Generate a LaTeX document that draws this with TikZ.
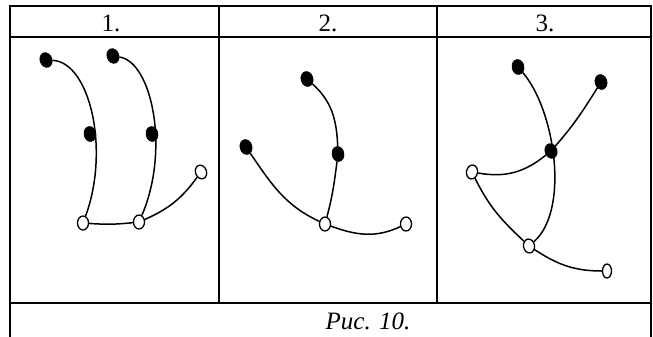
\documentclass[tikz,border=0pt]{standalone}
\usepackage{fontspec}
\setmainfont{Liberation Serif}
\usetikzlibrary{shapes.geometric}
\begin{document}
\begin{tikzpicture}[x=1bp,y=-1bp,
  frame/.style={line width=2bp},
  curve/.style={line width=1.5bp},
  fdot/.style={ellipse,fill=black,draw=black,line width=0.6bp,minimum width=12bp,minimum height=15bp,inner sep=0pt},
  odot/.style={ellipse,fill=white,draw=black,line width=1.3bp,minimum width=11bp,minimum height=14bp,inner sep=0pt},
  lbl/.style={font=\fontsize{25bp}{30bp}\selectfont,inner sep=0pt}]
\useasboundingbox (0,0) rectangle (653,336);
% table
\draw[frame] (10,340) -- (10,6) -- (651,6) -- (651,340);
\draw[frame] (10,36.5) -- (651,36.5);
\draw[frame] (10,303) -- (651,303);
\draw[frame] (219,6) -- (219,303);
\draw[frame] (437,6) -- (437,303);
\node[lbl,anchor=base] (h1) at (111,31.5) {1.};
\node[lbl,anchor=base] (h2) at (328,31.5) {2.};
\node[lbl,anchor=base] (h3) at (545,31.5) {3.};
\node[lbl,anchor=base] (cap) at (368,329) {\itshape Рис. 10.};
% column 1
\node[fdot,rotate=20] (a1) at (46,60) {};
\node[fdot,rotate=10] (b1) at (90,134) {};
\node[fdot,rotate=20] (c1) at (113,56) {};
\node[fdot,rotate=10] (d1) at (152,134) {};
\node[odot] (e1) at (83,223) {};
\node[odot] (f1) at (139,222) {};
\node[odot,rotate=20] (g1) at (201,172) {};
\draw[curve] (a1) .. controls (90,62) and (110,150) .. (e1);
\draw[curve] (c1) .. controls (152,62) and (170,150) .. (f1);
\draw[curve] (e1) to[bend right=5] (f1);
\draw[curve] (f1) to[bend right=15] (g1);
% column 2
\node[fdot,rotate=15] (a2) at (307,79) {};
\node[fdot,rotate=15] (b2) at (246,147) {};
\node[fdot,rotate=10] (c2) at (338,154) {};
\node[odot] (d2) at (325,224) {};
\node[odot] (e2) at (406,224) {};
\draw[curve] (a2) to[out=-45,in=90] (c2);
\draw[curve] (c2) to[out=-100,in=75] (d2);
\draw[curve] (b2) to[out=-58,in=155] (d2);
\draw[curve] (d2) to[out=-20,in=205] (e2);
% column 3
\node[fdot,rotate=10] (a3) at (518,67) {};
\node[fdot,rotate=15] (b3) at (601,82) {};
\node[fdot,rotate=20] (c3) at (551,151) {};
\node[odot,rotate=-10] (d3) at (472,172) {};
\node[odot,rotate=10] (e3) at (529,246) {};
\node[odot,minimum width=9bp] (f3) at (607,271) {};
\draw[curve] (a3) .. controls (555,110) and (570,210) .. (e3);
\draw[curve] (b3) to[out=-125,in=45] (c3);
\draw[curve] (c3) to[out=-145,in=-8] (d3);
\draw[curve] (d3) to[out=-62,in=135] (e3);
\draw[curve] (e3) to[out=-35,in=180] (f3);
\end{tikzpicture}
\end{document}
